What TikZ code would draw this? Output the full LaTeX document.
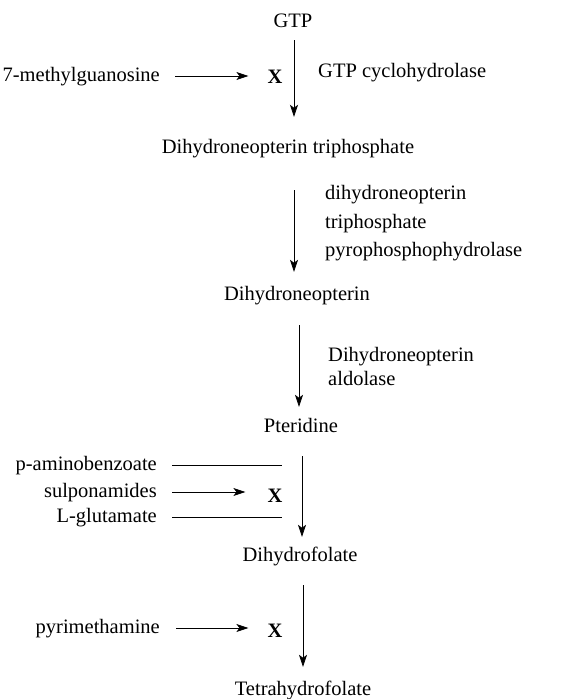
\documentclass[tikz,border=0pt]{standalone}
\usepackage{fontspec}
\setmainfont{Liberation Serif}
\usetikzlibrary{arrows.meta}
\newcommand{\pathfont}{\fontsize{20.5}{28.5}\selectfont}
\tikzset{
  cmpd/.style={inner sep=0pt,text height=14pt,text depth=4pt},
  enz/.style={inner sep=0pt,anchor=west,align=left},
  inh/.style={inner sep=0pt,text height=14pt,text depth=4pt,anchor=east},
  blk/.style={inner sep=0pt,text height=14pt,text depth=4pt,font=\pathfont\bfseries},
  flow/.style={line width=0.7pt,-{Stealth[length=12pt,width=8pt,inset=3pt]}}
}
\begin{document}
\begin{tikzpicture}[x=1pt,y=-1pt,font=\pathfont]
 \useasboundingbox (0,0) rectangle (579,699);
 \node[cmpd] (gtp) at (293,22) {GTP};
 \node[inh] (mgua) at (160,76) {7-methylguanosine};
 \node[blk] (x1) at (275,78) {X};
 \node[enz] (cyc) at (318,73) {GTP cyclohydrolase};
 \node[cmpd] (dnptp) at (288,148) {Dihydroneopterin triphosphate};
 \node[enz] (pph) at (325,223.5) {dihydroneopterin\\triphosphate\\pyrophosphophydrolase};
 \node[cmpd] (dnp) at (297,295) {Dihydroneopterin};
 \node[enz] (ald) at (328,366) {Dihydroneopterin\\[-4.5pt]aldolase};
 \node[cmpd] (pter) at (301,427) {Pteridine};
 \node[inh] (pab) at (157,465) {p-aminobenzoate};
 \node[inh] (sulf) at (157,492) {sulponamides};
 \node[inh] (glu) at (157,517) {L-glutamate};
 \node[blk] (x2) at (275,497) {X};
 \node[cmpd] (dhf) at (300,556) {Dihydrofolate};
 \node[inh] (pyr) at (160,628) {pyrimethamine};
 \node[blk] (x3) at (275,632) {X};
 \node[cmpd] (thf) at (303,690) {Tetrahydrofolate};
 \draw[flow,shorten <=9pt,shorten >=22pt] ([xshift=1]gtp.south) -- ([xshift=1]gtp.south |- dnptp.north);
 \draw[flow,shorten <=33pt,shorten >=14pt] ([xshift=6]dnptp.south) -- ([xshift=6]dnptp.south |- dnp.north);
 \draw[flow,shorten <=21pt,shorten >=11pt] ([xshift=2]dnp.south) -- ([xshift=2]dnp.south |- pter.north);
 \draw[flow,shorten <=20pt,shorten >=10pt] ([xshift=1]pter.south) -- ([xshift=1]pter.south |- dhf.north);
 \draw[flow,shorten <=20pt,shorten >=14pt] ([xshift=3]dhf.south) -- ([xshift=3]dhf.south |- thf.north);
 \draw[flow,shorten <=15pt,shorten >=19pt] (mgua.east) -- (x1.west |- mgua.east);
 \draw[flow,shorten <=15pt,shorten >=22pt] (sulf.east) -- (x2.west |- sulf.east);
 \draw[line width=0.7pt,shorten <=15pt,shorten >=1pt] (pab.east) -- (x2.east |- pab.east);
 \draw[line width=0.7pt,shorten <=15pt,shorten >=1pt] (glu.east) -- (x2.east |- glu.east);
 \draw[flow,shorten <=16pt,shorten >=19pt] (pyr.east) -- (x3.west |- pyr.east);
\end{tikzpicture}
\end{document}
